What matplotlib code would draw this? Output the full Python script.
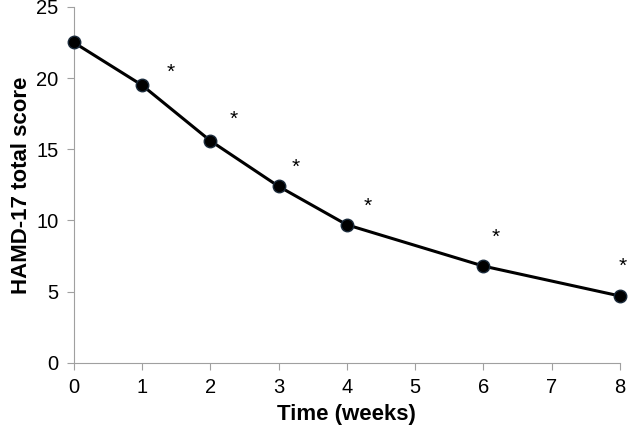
import matplotlib
matplotlib.use("Agg")
import matplotlib.pyplot as plt

plt.rcParams['font.family'] = ['Liberation Sans', 'DejaVu Sans']

weeks = [0, 1, 2, 3, 4, 6, 8]
hamd = [22.5, 19.5, 15.6, 12.4, 9.7, 6.8, 4.7]
# significance markers (x, y) placed beside points
star_x = [1.42, 2.35, 3.25, 4.30, 6.18, 8.04]
star_y = [20.4, 17.1, 13.7, 11.0, 8.8, 6.8]

fig = plt.figure(figsize=(6.3, 4.25), dpi=100)
ax = fig.add_axes([0.117, 0.146, 0.867, 0.838])

ax.plot(weeks, hamd, color='black', lw=2.2, marker='o', ms=9,
        markerfacecolor='black', markeredgecolor='#1a2a3a', clip_on=False, zorder=3)
for x, y in zip(star_x, star_y):
    ax.text(x, y, '*', ha='center', va='center', fontsize=15)

ax.set_xlim(0, 8)
ax.set_ylim(0, 25)
ax.set_xticks(range(0, 9))
ax.set_yticks(range(0, 26, 5))
for s in ['top', 'right']:
    ax.spines[s].set_visible(False)
for s in ['left', 'bottom']:
    ax.spines[s].set_color('#a0a0a0')
ax.tick_params(colors='#a0a0a0', labelcolor='black', labelsize=14.5, length=5,
               direction='out', pad=6)
ax.set_xlabel('Time (weeks)', fontsize=16, fontweight='bold', labelpad=5)
ax.set_ylabel('HAMD-17 total score', fontsize=16, fontweight='bold', labelpad=3)

fig.savefig('out.png', dpi=100)
